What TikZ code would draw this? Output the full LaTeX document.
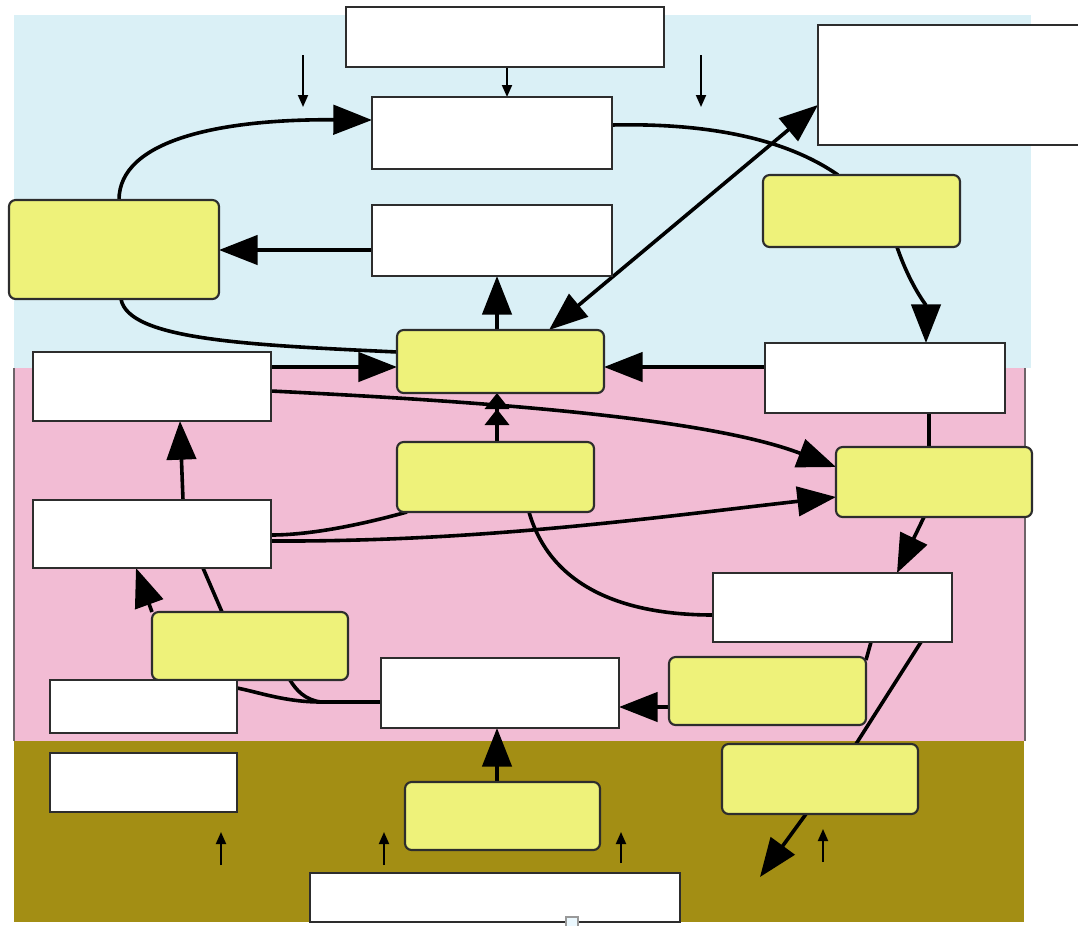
\documentclass[tikz,border=0pt]{standalone}
\usetikzlibrary{arrows.meta,calc}
\definecolor{skyb}{RGB}{218,240,246}
\definecolor{pinkb}{RGB}{242,188,212}
\definecolor{oliveb}{RGB}{163,142,20}
\definecolor{ylw}{RGB}{238,242,122}
\definecolor{bord}{RGB}{45,45,45}
\definecolor{edgegray}{RGB}{110,100,105}
\pgfdeclarelayer{bg}
\pgfdeclarelayer{edges}
\pgfsetlayers{bg,edges,main}
\begin{document}
\begin{tikzpicture}[x=0.75pt,y=-0.75pt,
 wh/.style 2 args={minimum width=#1*0.75pt,minimum height=#2*0.75pt},
 wbox/.style={draw=bord,line width=1.6pt,fill=white,inner sep=0pt,outer sep=0pt,anchor=north west},
 ybox/.style={wbox,fill=ylw,rounded corners=5pt},
 conn/.style={line width=2.7pt,black},
 arr/.style={conn,-{Triangle[length=29pt,width=22pt]}},
 darr/.style={conn,{Triangle[length=29pt,width=22pt]}-{Triangle[length=29pt,width=22pt]}},
 arrtwo/.style={conn,-{Triangle[length=12pt,width=18pt]Triangle[length=12pt,width=18pt]}},
 tarr/.style={line width=1.4pt,black,-{Triangle[length=9pt,width=7.5pt]}}]
\useasboundingbox (0,0) rectangle (1078,925);
\begin{pgfonlayer}{bg}
\fill[skyb] (14,15) rectangle (1031,368);
\fill[pinkb] (14,368) rectangle (1025,741);
\fill[oliveb] (14,741) rectangle (1024,922);
\draw[edgegray,line width=1.5pt] (14,368) -- (14,741) (1025,368) -- (1025,741);
\end{pgfonlayer}
% boxes
\node[wbox,wh={318}{60}] (T0) at (346,7) {};
\node[wbox,wh={240}{72}] (A) at (372,97) {};
\node[wbox,wh={268}{120}] (TR) at (818,25) {};
\node[ybox,wh={197}{72}] (Y1) at (763,175) {};
\node[ybox,wh={210}{99}] (L) at (9,200) {};
\node[wbox,wh={240}{71}] (B) at (372,205) {};
\node[ybox,wh={207}{63}] (C) at (397,330) {};
\node[wbox,wh={238}{69}] (Wl1) at (33,352) {};
\node[wbox,wh={240}{70}] (R1) at (765,343) {};
\node[ybox,wh={197}{70}] (Y2) at (397,442) {};
\node[ybox,wh={196}{70}] (Y3) at (836,447) {};
\node[wbox,wh={238}{68}] (Wl2) at (33,500) {};
\node[wbox,wh={239}{69}] (W4) at (713,573) {};
\node[ybox,wh={196}{68}] (Y4) at (152,612) {};
\node[wbox,wh={238}{70}] (W5) at (381,658) {};
\node[ybox,wh={197}{68}] (Y5) at (669,657) {};
\node[wbox,wh={187}{53}] (Wa) at (50,680) {};
\node[wbox,wh={187}{59}] (Wb) at (50,753) {};
\node[ybox,wh={195}{68}] (Y6) at (405,782) {};
\node[ybox,wh={196}{70}] (Y7) at (722,744) {};
\node[wbox,wh={370}{49}] (Bot) at (310,873) {};
\filldraw[fill=cyan!8,draw=gray!80,line width=0.8pt] (566,917) rectangle (578,927);
% free ends
\coordinate (d1a) at (303,55); \coordinate (d1b) at (303,107);
\coordinate (d2a) at (701,55); \coordinate (d2b) at (701,107);
\coordinate (u1a) at (221,865); \coordinate (u1b) at (221,832);
\coordinate (u2a) at (384,865); \coordinate (u2b) at (384,832);
\coordinate (u3a) at (621,863); \coordinate (u3b) at (621,832);
\coordinate (u4a) at (823,862); \coordinate (u4b) at (823,829);
\coordinate (yout) at (760,877);
\coordinate (jn) at (321,702);
\begin{pgfonlayer}{edges}
\draw[tarr] (T0.south -| 507,0) -- (507,0 |- A.north);
\draw[tarr] (d1a) -- (d1b);
\draw[tarr] (d2a) -- (d2b);
\draw[tarr] (u1a) -- (u1b);
\draw[tarr] (u2a) -- (u2b);
\draw[tarr] (u3a) -- (u3b);
\draw[tarr] (u4a) -- (u4b);
\draw[arr] (119,0 |- L.north) .. controls (119,140) and (220,119) .. (A.west |- 0,120);
\draw[conn] (A.east |- 0,125) .. controls (700,123) and (782,136) .. (838,0 |- Y1.north);
\draw[arr] (B.west |- 0,250) -- (L.east |- 0,250);
\draw[arr] (497,0 |- C.north) -- (497,0 |- B.south);
\draw[darr] (549,0 |- C.north) -- (TR.west |- 0,105);
\draw[arr] (897,0 |- Y1.south) .. controls (910,285) and (926,305) .. (926,0 |- R1.north);
\draw[arr] (R1.west |- 0,367) -- (C.east |- 0,367);
\draw[conn] (121,0 |- L.south) .. controls (128,340) and (250,345) .. (C.west |- 0,352);
\draw[arr] (Wl1.east |- 0,367) -- (C.west |- 0,367);
\draw[arr] (Wl1.east |- 0,391) .. controls (450,400) and (700,415) .. (Y3.west |- 0,467);
\draw[arr] (183,0 |- Wl2.north) -- (180,0 |- Wl1.south);
\draw[arrtwo] (497,0 |- Y2.north) -- (497,0 |- C.south);
\draw[conn] (407,0 |- Y2.south) .. controls (360,525) and (310,535) .. (Wl2.east |- 0,535);
\draw[arr] (Wl2.east |- 0,541) .. controls (480,542) and (650,518) .. (Y3.west |- 0,497);
\draw[conn] (529,0 |- Y2.south) .. controls (550,585) and (620,615) .. (W4.west |- 0,615);
\draw[arr] (924,0 |- Y3.south) -- (897,0 |- W4.north);
\draw[conn] (929,0 |- R1.south) -- (929,0 |- Y3.north);
\draw[conn] (921,0 |- W4.south) -- (856,0 |- Y7.north);
\draw[arr] (806,0 |- Y7.south) -- (yout);
\draw[conn] (871,0 |- W4.south) -- (Y5.east |- 0,660);
\draw[arr] (Y5.west |- 0,707) -- (W5.east |- 0,707);
\draw[arr] (497,0 |- Y6.north) -- (497,0 |- W5.south);
\draw[conn] (W5.west |- jn) -- (jn) .. controls (305,700) and (296,690) .. (290,0 |- Y4.south);
\draw[conn] (jn) .. controls (285,702) and (258,692) .. (Wa.east |- 0,688);
\draw[conn] (222,0 |- Y4.north) -- (203,0 |- Wl2.south);
\draw[arr] (Y4.north west) -- (136,0 |- Wl2.south);
\end{pgfonlayer}
\end{tikzpicture}
\end{document}
